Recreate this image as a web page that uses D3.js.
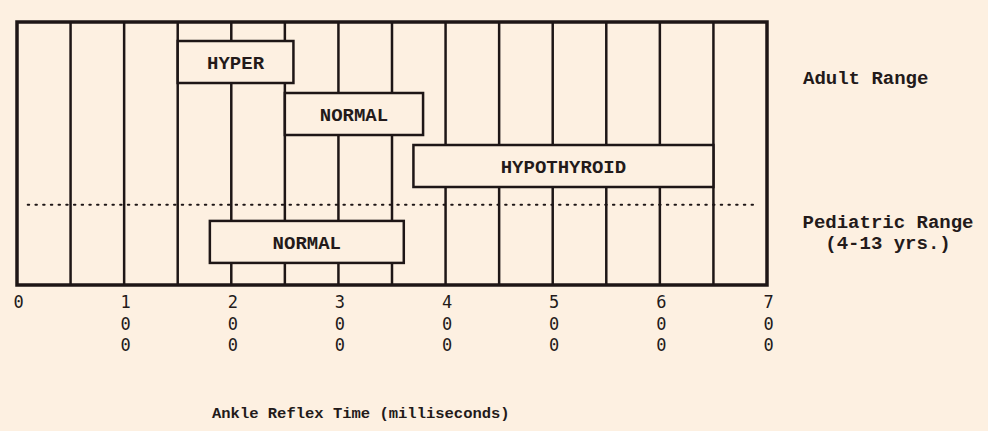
<!DOCTYPE html>
<html>
<head>
<meta charset="utf-8">
<script src="https://cdn.jsdelivr.net/npm/d3@7"></script>
<style>
	html, body { margin: 0; padding: 0; background: #fdf0e1; }
	svg { display: block; }
	.frame { fill: none; stroke: #1e1616; stroke-width: 3.5; }
	.grid-line { stroke: #1e1616; stroke-width: 2.5; }
	.bar { fill: #fdf0e1; stroke: #1e1616; stroke-width: 2.5; }
	.bar-label { font-family: "Liberation Mono", monospace; font-weight: bold; font-size: 19px; fill: #231a1a; }
	.range-label { font-family: "Liberation Mono", monospace; font-weight: bold; font-size: 19px; fill: #231a1a; }
	.axis-title { font-family: "Liberation Mono", monospace; font-weight: bold; font-size: 15.5px; fill: #231a1a; }
	.tick text { font-family: "DejaVu Sans Mono", monospace; font-size: 17px; fill: #231a1a; }
	.divider { stroke: #1e1616; stroke-width: 2; stroke-dasharray: 1.5 6.2; stroke-linecap: round; }
</style>
</head>
<body>
<script>

// ankle reflex time, ms
let tickValues = [0, 100, 200, 300, 400, 500, 600, 700]
let gridValues = [0, 50, 100, 150, 200, 250, 300, 350, 400, 450, 500, 550, 600, 650, 700]

let barLabels = ['HYPER', 'NORMAL', 'HYPOTHYROID', 'NORMAL']
let barStart  = [150, 250, 370, 180]
let barEnd    = [258, 379, 650, 361]
let barLane   = [0, 1, 2, 3.46]

let dividerLane = 3.15

let rangeLabels = [
	{ lines : ['Adult Range'], lane : 0.82, anchor : 'start', x : 803 },
	{ lines : ['Pediatric Range', '(4-13 yrs.)'], lane : 3.6, anchor : 'middle', x : 888 }
]

let width = 988
let height = 431

let frameLeft = 17
let frameRight = 767
let frameTop = 22
let frameBottom = 285
let barHeight = 42

let x = d3.scaleLinear()
	.domain([0, 700])
	.range([frameLeft, frameRight])

let lane = d3.scaleLinear()
	.domain([0, 1])
	.range([41, 93])

let svg = d3.select('body').append('svg')
	.attr('width', width)
	.attr('height', height)

svg.selectAll('.grid-line')
	.data(gridValues.slice(1, -1))
	.enter()
	.append('line')
	.attr('class', 'grid-line')
	.attr('x1', d => x(d))
	.attr('x2', d => x(d))
	.attr('y1', frameTop)
	.attr('y2', frameBottom)

svg.append('line')
	.attr('class', 'divider')
	.attr('x1', x(10))
	.attr('x2', x(692))
	.attr('y1', lane(dividerLane))
	.attr('y2', lane(dividerLane))

let bars = svg.selectAll('.bar-group')
	.data(barLabels.map((label, i) => ({ label, start : barStart[i], end : barEnd[i], lane : barLane[i] })))
	.enter()
	.append('g')
	.attr('class', 'bar-group')

bars.append('rect')
	.attr('class', 'bar')
	.attr('x', d => x(d.start))
	.attr('y', d => lane(d.lane))
	.attr('width', d => x(d.end) - x(d.start))
	.attr('height', barHeight)

bars.append('text')
	.attr('class', 'bar-label')
	.attr('x', d => (x(d.start) + x(d.end)) / 2)
	.attr('y', d => lane(d.lane) + barHeight / 2)
	.attr('dy', '0.36em')
	.attr('text-anchor', 'middle')
	.text(d => d.label)

svg.append('rect')
	.attr('class', 'frame')
	.attr('x', frameLeft)
	.attr('y', frameTop)
	.attr('width', frameRight - frameLeft)
	.attr('height', frameBottom - frameTop)

// axis, digits stacked vertically
let axis = svg.append('g')
	.attr('transform', `translate(1, ${frameBottom + 6})`)
	.call(d3.axisBottom(x).tickValues(tickValues).tickSize(0).tickFormat(''))

axis.select('.domain').remove()

axis.selectAll('.tick text')
	.attr('y', 0)
	.attr('dy', 0)
	.attr('text-anchor', 'middle')
	.each(function(d) {
		let t = d3.select(this)
		String(d).split('').forEach((ch, i) => {
			t.append('tspan')
				.attr('x', 0)
				.attr('y', 17 + i * 21.5)
				.text(ch)
		})
	})

svg.append('text')
	.attr('class', 'axis-title')
	.attr('x', 212)
	.attr('y', 418)
	.text('Ankle Reflex Time (milliseconds)')

rangeLabels.forEach(r => {
	let t = svg.append('text')
		.attr('class', 'range-label')
		.attr('text-anchor', r.anchor)
	r.lines.forEach((line, i) => {
		t.append('tspan')
			.attr('x', r.x)
			.attr('y', lane(r.lane) + i * 21)
			.text(line)
	})
})

</script>
</body>
</html>
